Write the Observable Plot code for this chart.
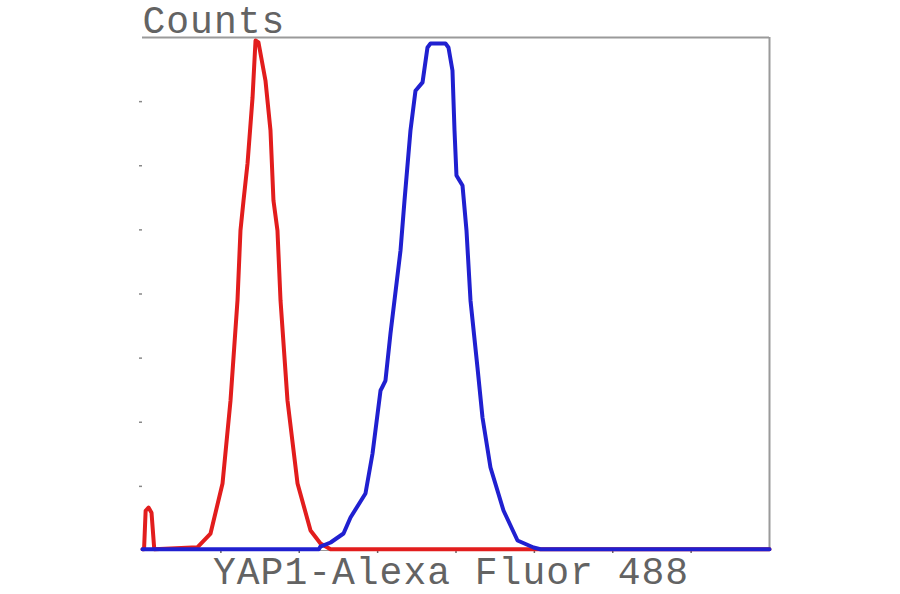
<!DOCTYPE html>
<html>
<head>
<meta charset="utf-8">
<script src="https://cdn.jsdelivr.net/npm/d3@7"></script>
<script src="https://cdn.jsdelivr.net/npm/@observablehq/plot@0.6"></script>
<style>
  html, body { margin: 0; padding: 0; background: #fff; }
  svg { overflow: visible; }
  svg text { letter-spacing: 1px; }
</style>
</head>
<body>
<div id="chart"></div>
<script>
// Fluorescence channel (decade units, 0..8) and counts (axis units, 0..8)
const isotypeX = [0, 0.02, 0.04, 0.077, 0.115, 0.15, 0.70, 0.868, 1.021, 1.123, 1.212, 1.250, 1.289, 1.340, 1.404, 1.442, 1.480, 1.569, 1.633, 1.671, 1.722, 1.761, 1.850, 1.978, 2.144, 2.271, 2.399, 8];
const isotypeY = [0.02, 0.02, 0.62, 0.67, 0.59, 0.02, 0.05, 0.265, 1.045, 2.339, 3.899, 4.990, 5.458, 6.035, 7.064, 7.953, 7.922, 7.329, 6.550, 5.458, 4.990, 3.899, 2.339, 1.045, 0.312, 0.109, 0.02, 0.02];

const yap1X = [0, 2.25, 2.27, 2.40, 2.565, 2.654, 2.845, 2.935, 3.037, 3.06, 3.10, 3.164, 3.292, 3.343, 3.419, 3.483, 3.573, 3.636, 3.675, 3.866, 3.904, 3.955, 3.981, 4.006, 4.083, 4.134, 4.185, 4.274, 4.338, 4.440, 4.606, 4.785, 4.989, 5.078, 8];
const yap1Y = [0.02, 0.02, 0.06, 0.125, 0.265, 0.515, 0.889, 1.513, 2.495, 2.55, 2.651, 3.384, 4.678, 5.458, 6.550, 7.17, 7.30, 7.844, 7.906, 7.906, 7.844, 7.485, 6.550, 5.848, 5.692, 4.990, 3.899, 2.854, 2.074, 1.294, 0.624, 0.156, 0.047, 0.02, 0.02];

const xTicks = [1, 2, 3, 4, 5, 6, 7];
const yTicks = [1, 2, 3, 4, 5, 6, 7];
const yLabel = "Counts";
const xLabel = "YAP1-Alexa Fluor 488";

const isotype = isotypeX.map((x, i) => ({x, y: isotypeY[i]}));
const yap1 = yap1X.map((x, i) => ({x, y: yap1Y[i]}));

const textStyle = {fontFamily: "Liberation Mono, DejaVu Sans Mono, monospace", fontSize: 38, fill: "#636363"};

const chart = Plot.plot({
  width: 900,
  height: 594,
  marginLeft: 142,
  marginRight: 131,
  marginTop: 37,
  marginBottom: 44,
  style: {background: "#fff", overflow: "visible"},
  x: {domain: [0, 8], label: null},
  y: {domain: [0, 8], label: null},
  marks: [
    Plot.ruleY([8], {stroke: "#9a9a9a", strokeWidth: 2}),
    Plot.ruleX([8], {stroke: "#9a9a9a", strokeWidth: 2}),
    Plot.ruleY([0], {stroke: "#9a9a9a", strokeWidth: 1}),
    Plot.axisY(yTicks, {label: null, tickSize: 3, tickFormat: () => "", stroke: "#888", strokeWidth: 1.5}),
    Plot.axisX(xTicks, {label: null, tickSize: 3, tickFormat: () => "", stroke: "#666", strokeWidth: 1.5}),
    Plot.line(isotype, {x: "x", y: "y", stroke: "#e21d1d", strokeWidth: 4, strokeLinejoin: "round"}),
    Plot.line(yap1, {x: "x", y: "y", stroke: "#2020d0", strokeWidth: 4, strokeLinejoin: "round"}),
    Plot.text([yLabel], {frameAnchor: "top-left", textAnchor: "start", lineAnchor: "bottom", dy: -5, ...textStyle}),
    Plot.text([xLabel], {frameAnchor: "bottom", textAnchor: "middle", lineAnchor: "bottom", dx: -5, dy: 33, ...textStyle})
  ]
});
document.getElementById("chart").appendChild(chart);
</script>
</body>
</html>
